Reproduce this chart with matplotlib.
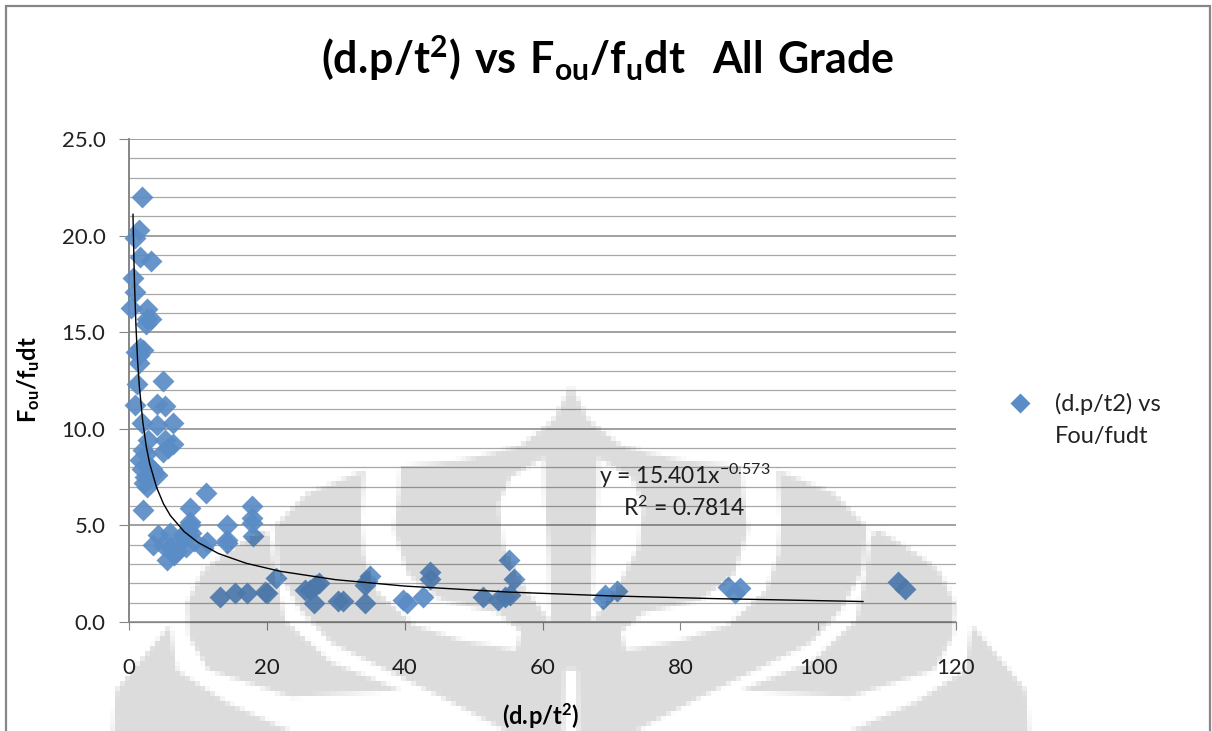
import numpy as np
import matplotlib
matplotlib.use("Agg")
import matplotlib.pyplot as plt
from matplotlib.lines import Line2D
from matplotlib.patches import Polygon
from matplotlib.ticker import MultipleLocator, FormatStrFormatter

# points
dp_t2 = [1.9, 1.5, 0.9, 1.6, 3.2, 0.6, 0.9, 0.3, 2.6, 2.6, 2.4, 3.2,
         1.6, 1.0, 2.0, 1.5, 1.4, 1.1, 5.0, 0.9, 4.0, 5.2, 1.9, 4.0, 6.4,
         2.8, 5.2, 6.4, 5.0, 5.6, 1.6, 2.4, 1.9, 4.0, 3.3, 2.2, 2.9,
         2.0, 2.5, 3.0, 2.3, 2.6, 3.6,
         2.0, 11.2, 8.8, 8.8, 8.5, 14.2, 14.2, 14.2, 17.9, 17.9, 17.9, 18.0,
         4.2, 6.0, 3.5, 11.3, 10.8, 8.3, 7.0, 6.4, 5.5, 6.6, 5.0, 6.0, 7.5, 8.0, 9.5, 8.9, 9.0, 7.8,
         13.2, 15.4, 17.1, 19.7, 20.0, 21.3, 25.5, 27.2, 26.3, 26.8, 27.5, 30.3,
         31.1, 34.2, 34.2, 35.0, 34.5, 39.8, 40.3, 42.7, 43.7, 43.7, 51.4,
         53.6, 54.5, 55.3, 55.2, 55.8, 69.0, 68.8, 70.8,
         86.9, 88.6, 88.0, 111.6, 112.6]
fou_fudt = [22.0, 20.3, 19.9, 18.9, 18.7, 17.8, 17.1, 16.25, 16.2, 15.7, 15.4, 15.7,
            14.2, 14.0, 14.1, 13.4, 13.8, 12.3, 12.45, 11.25, 11.3, 11.2, 10.3, 10.2, 10.3,
            9.4, 9.4, 9.2, 8.8, 9.0, 8.4, 8.7, 7.9, 7.6, 7.9, 7.2, 7.45,
            8.9, 8.2, 8.0, 7.5, 7.0, 7.7,
            5.8, 6.7, 5.9, 5.2, 4.75, 5.0, 4.25, 4.1, 6.0, 5.4, 5.15, 4.45,
            4.5, 4.6, 4.0, 4.15, 3.85, 3.9, 3.7, 3.55, 3.2, 3.45, 4.0, 3.9, 4.2, 4.4, 4.2, 5.0, 4.6, 4.5,
            1.3, 1.5, 1.5, 1.55, 1.5, 2.3, 1.65, 1.9, 1.65, 1.0, 2.0, 1.1,
            1.1, 1.0, 1.9, 2.4, 2.1, 1.15, 1.0, 1.3, 2.6, 2.2, 1.3,
            1.15, 1.3, 1.4, 3.2, 2.2, 1.4, 1.2, 1.6,
            1.8, 1.75, 1.5, 2.05, 1.7]

trend_x = [0.58, 0.7, 0.8, 1, 1.25, 1.5, 2, 2.5, 3, 4, 5, 6, 8, 10, 13, 17, 22, 30, 40, 55, 70, 85, 106.5]
trend_y = [21.1, 19.0, 17.5, 15.4, 13.5, 12.2, 10.36, 9.1, 8.2, 6.97, 6.12, 5.51, 4.68, 4.12, 3.54, 3.04,
           2.62, 2.19, 1.86, 1.55, 1.35, 1.21, 1.06]

x_ticks = [0, 20, 40, 60, 80, 100, 120]
legend_lines = ["(d.p/t2) vs", "Fou/fudt"]

W, H = 1212, 731
GRID_DARK = "#868686"
GRID_LIGHT = "#A8A8A8"
MARK = "#5A8CC6"
CX = 570

plt.rcParams["font.family"] = ["Lato", "DejaVu Sans"]
plt.rcParams["mathtext.fontset"] = "custom"
plt.rcParams["mathtext.rm"] = "Lato"
plt.rcParams["mathtext.bf"] = "Lato:bold"
plt.rcParams["mathtext.default"] = "rm"

# watermark drawn once at low resolution, used later as a darkening overlay
wm_fig = plt.figure(figsize=(W / 100, H / 100), dpi=20)
wm = wm_fig.add_axes([0, 0, 1, 1])
wm.set_xlim(0, W)
wm.set_ylim(H, 0)
wm.axis("off")


def both_sides(half, color, z):
    # half outline given as (offset from centre line, y), drawn mirrored
    pts = [(CX + dx, y) for dx, y in half] + [(CX - dx, y) for dx, y in reversed(half)]
    wm.add_patch(Polygon(pts, closed=True, fc=color, ec="none", zorder=z))


def mirrored(half, color, z):
    for s in (1, -1):
        wm.add_patch(Polygon([(CX + s * dx, y) for dx, y in half], closed=True, fc=color, ec="none", zorder=z))


# centre bulb and side lobes
both_sides([(0, 386), (18, 420), (50, 445), (75, 452), (110, 460), (206, 470), (263, 493), (296, 527),
            (292, 570), (270, 610), (240, 643), (130, 697), (65, 731)], "black", 1)
# lower petals
mirrored([(308, 530), (340, 550), (367, 570), (383, 603), (381, 637), (362, 670), (279, 697),
          (170, 690), (240, 662), (285, 620), (295, 570), (300, 535)], "black", 1)
# outer petals
mirrored([(400, 625), (425, 655), (454, 690), (457, 731), (279, 731), (342, 703), (393, 670)], "black", 1)
# white band round the bulb
mirrored([(170, 464), (206, 464), (210, 520), (207, 555), (195, 590), (157, 625), (110, 640), (55, 650),
          (50, 632), (73, 613), (130, 600), (163, 575), (177, 530), (172, 490)], "white", 2)
# white crescents in the bulb
mirrored([(27, 458), (60, 477), (72, 503), (68, 545), (45, 590), (20, 622), (22, 560), (26, 500)], "white", 2)
# slit at the bottom
both_sides([(6, 670), (7, 731)], "white", 2)

wm_fig.canvas.draw()
mask = 1 - np.asarray(wm_fig.canvas.buffer_rgba())[..., 0] / 255.0
plt.close(wm_fig)
overlay = np.zeros(mask.shape + (4,))
overlay[..., 3] = mask * 0.14

fig = plt.figure(figsize=(W / 100, H / 100), dpi=100)

# outer frame
bg = fig.add_axes([0, 0, 1, 1], zorder=0)
bg.set_xlim(0, W)
bg.set_ylim(H, 0)
bg.axis("off")
bg.plot([6, 6, 1210, 1210], [H, 6, 6, H], color=GRID_DARK, lw=1.6, solid_joinstyle="miter")

# main chart
ax = fig.add_axes([129 / W, 1 - 622 / H, (956 - 129) / W, (622 - 139) / H], zorder=1)
ax.patch.set_alpha(0)
ax.set_xlim(0, 120)
ax.set_ylim(0, 25)

ax.yaxis.set_major_locator(MultipleLocator(5))
ax.yaxis.set_minor_locator(MultipleLocator(1))
ax.yaxis.set_major_formatter(FormatStrFormatter("%.1f"))
ax.set_xticks(x_ticks)
ax.grid(True, axis="y", which="major", color=GRID_DARK, lw=1.1)
ax.grid(True, axis="y", which="minor", color=GRID_LIGHT, lw=0.9)
ax.set_axisbelow(True)

for side in ("top", "right"):
    ax.spines[side].set_visible(False)
ax.spines["left"].set_color(GRID_DARK)
ax.spines["left"].set_linewidth(1.4)
ax.spines["bottom"].set_color(GRID_DARK)
ax.spines["bottom"].set_linewidth(0.9)

ax.tick_params(axis="y", which="major", length=7, width=0.8, color=GRID_DARK, labelsize=16, pad=10, labelcolor="#222222")
ax.tick_params(axis="y", which="minor", length=0)
ax.tick_params(axis="x", length=6, width=0.8, color=GRID_DARK, labelsize=16, pad=20, labelcolor="#222222")

ax.scatter(dp_t2, fou_fudt, marker="D", s=125, color=MARK, alpha=0.92, linewidths=0,
           clip_on=False, zorder=3)
ax.plot(trend_x, trend_y, color="black", lw=1.0, zorder=4)

fig.text(608 / W, 1 - 58 / H, r"$\mathbf{(d.\!p/t^2)\ vs\ F_{ou}/f_u dt\ \ All\ Grade}$",
         fontsize=31, ha="center", va="center", color="black")
fig.text(29 / W, 1 - 380 / H, r"$\mathbf{F_{ou}/f_u dt}$", fontsize=17, rotation=90,
         ha="center", va="center", color="black")
fig.text(541 / W, 1 - 716 / H, r"$\mathbf{(d.\!p/t^2)}$", fontsize=17, ha="center", va="center", color="black")

fig.text(685 / W, 1 - 476 / H, r"y = 15.401x$^{-0.573}$", fontsize=16.5, ha="center", va="center", color="#222222")
fig.text(684 / W, 1 - 508 / H, r"R$^2$ = 0.7814", fontsize=16.5, ha="center", va="center", color="#222222")

handles = [Line2D([], [], ls="none", marker="D", ms=10.5, mfc=MARK, mec="none"),
           Line2D([], [], ls="none", marker="none")]
ax.legend(handles, legend_lines, loc="center left", bbox_to_anchor=(1008 / W, 1 - 420 / H),
          bbox_transform=fig.transFigure, frameon=False, fontsize=17, labelcolor="#222222",
          handlelength=1.0, handletextpad=1.0, labelspacing=0.45, borderpad=0, borderaxespad=0)

# watermark on top so that it darkens everything beneath, as in the scanned page
top = fig.add_axes([0, 0, 1, 1], zorder=5)
top.imshow(overlay, extent=(0, W, H, 0), interpolation="nearest", aspect="auto")
top.axis("off")

fig.savefig("out.png", dpi=100)
